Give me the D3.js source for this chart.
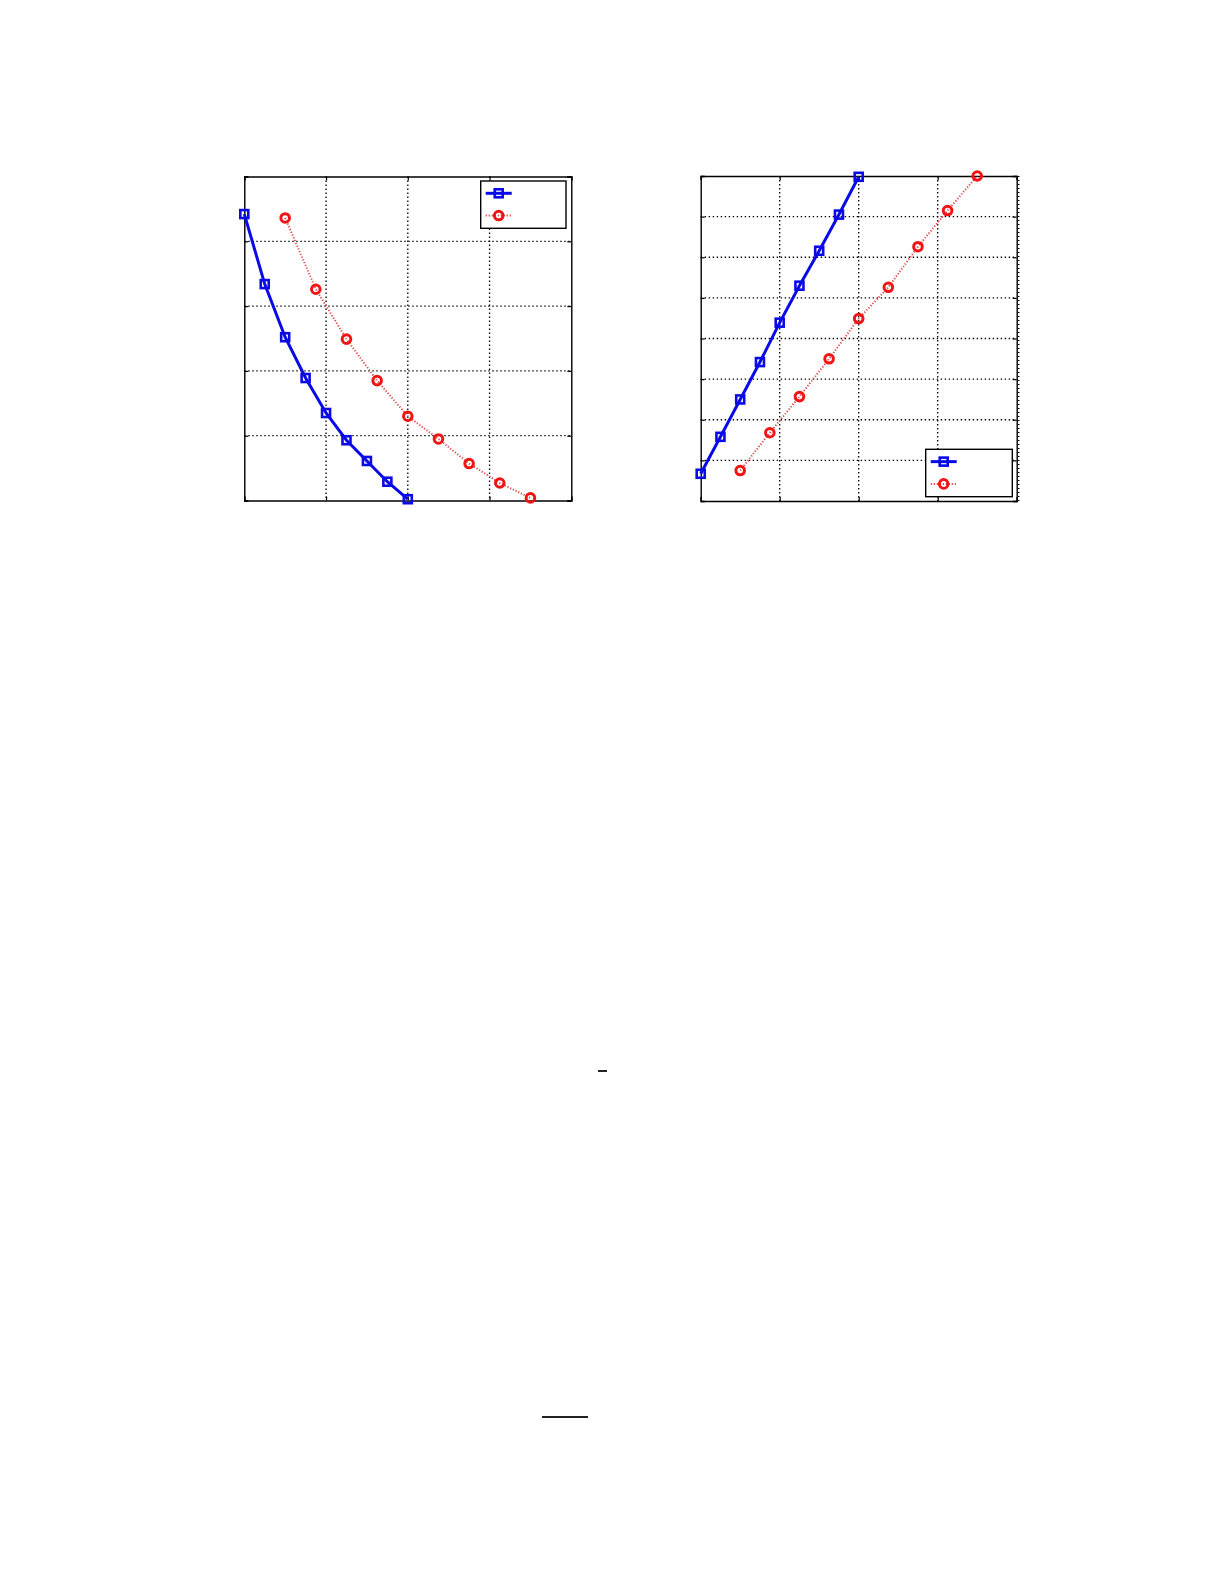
<!DOCTYPE html>
<html>
<head>
<meta charset="utf-8">
<script src="https://cdn.jsdelivr.net/npm/d3@7"></script>
<style>
  body { margin: 0; background: #fff; }
</style>
</head>
<body>
<div class="chart"></div>
<script>
// data (grid units: x 0-16, y 0-50 / 0-80)
var xBlue = [0, 1, 2, 3, 4, 5, 6, 7, 8];
var xRed = [2, 3.5, 5, 6.5, 8, 9.5, 11, 12.5, 14];

var leftBlue = [44.2, 33.4, 25.2, 18.9, 13.5, 9.3, 6.1, 2.9, 0.2];
var leftRed = [43.6, 32.6, 24.9, 18.5, 13.0, 9.5, 5.7, 2.7, 0.4];

var rightBlue = [6.7, 15.8, 25.0, 34.2, 43.9, 53.0, 61.6, 70.5, 79.8];
var rightRed = [7.5, 16.8, 25.7, 35.0, 44.9, 52.6, 62.6, 71.5, 80.0];

var xTicks = [0, 4, 8, 12, 16];
var leftYTicks = [0, 10, 20, 30, 40, 50];
var rightYTicks = [0, 10, 20, 30, 40, 50, 60, 70, 80];

var svgWidth = 1225;
var svgHeight = 1585;

var svg = d3
  .select(".chart")
  .append("svg")
  .attr("width", svgWidth)
  .attr("height", svgHeight);

var blue = "#0a0ae6";
var red = "#f01414";

function drawPanel(box, yMax, yTicks, blueVals, redVals, legendPos) {
  var width = box.right - box.left;
  var height = box.bottom - box.top;

  var g = svg.append("g")
    .attr("transform", `translate(${box.left}, ${box.top})`);

  var xScale = d3.scaleLinear().domain([0, 16]).range([0, width]);
  var yScale = d3.scaleLinear().domain([0, yMax]).range([height, 0]);

  // dotted grid
  g.append("g")
    .selectAll("line")
    .data(xTicks.slice(1, -1))
    .enter()
    .append("line")
    .attr("x1", d => xScale(d))
    .attr("x2", d => xScale(d))
    .attr("y1", 0)
    .attr("y2", height)
    .attr("stroke", "#000")
    .attr("stroke-width", 1.3)
    .attr("stroke-dasharray", "1.4,2.6");

  g.append("g")
    .selectAll("line")
    .data(yTicks.slice(1, -1))
    .enter()
    .append("line")
    .attr("x1", 0)
    .attr("x2", width)
    .attr("y1", d => yScale(d))
    .attr("y2", d => yScale(d))
    .attr("stroke", "#000")
    .attr("stroke-width", 1.3)
    .attr("stroke-dasharray", "1.4,2.6");

  // axes with inward ticks, no labels
  var bottomAxis = d3.axisBottom(xScale).tickValues(xTicks).tickSize(-4).tickFormat("");
  var topAxis = d3.axisTop(xScale).tickValues(xTicks).tickSize(-4).tickFormat("");
  var leftAxis = d3.axisLeft(yScale).tickValues(yTicks).tickSize(-4).tickFormat("");
  var rightAxis = d3.axisRight(yScale).tickValues(yTicks).tickSize(-4).tickFormat("");

  g.append("g").attr("transform", `translate(0, ${height})`).call(bottomAxis);
  g.append("g").call(topAxis);
  g.append("g").call(leftAxis);
  g.append("g").attr("transform", `translate(${width}, 0)`).call(rightAxis);
  g.selectAll(".domain").attr("stroke", "#000").attr("stroke-width", 1.4);
  g.selectAll(".tick line").attr("stroke-width", 1.2);

  var line = d3.line()
    .x(d => xScale(d[0]))
    .y(d => yScale(d[1]));

  var bluePts = xBlue.map((x, i) => [x, blueVals[i]]);
  var redPts = xRed.map((x, i) => [x, redVals[i]]);

  g.append("path")
    .datum(redPts)
    .attr("d", line)
    .attr("fill", "none")
    .attr("stroke", "#e04848")
    .attr("stroke-width", 2)
    .attr("stroke-dasharray", "1.2,1.8");

  g.append("path")
    .datum(bluePts)
    .attr("d", line)
    .attr("fill", "none")
    .attr("stroke", blue)
    .attr("stroke-width", 3);

  g.selectAll(".sq")
    .data(bluePts)
    .enter()
    .append("rect")
    .attr("x", d => xScale(d[0]) - 4)
    .attr("y", d => yScale(d[1]) - 4)
    .attr("width", 8)
    .attr("height", 8)
    .attr("fill", "none")
    .attr("stroke", blue)
    .attr("stroke-width", 2.6);

  g.selectAll(".ci")
    .data(redPts)
    .enter()
    .append("circle")
    .attr("cx", d => xScale(d[0]))
    .attr("cy", d => yScale(d[1]))
    .attr("r", 4.3)
    .attr("fill", "none")
    .attr("stroke", red)
    .attr("stroke-width", 3);

  // legend (entries without text)
  var lg = svg.append("g")
    .attr("transform", `translate(${legendPos.x}, ${legendPos.y})`);

  lg.append("rect")
    .attr("width", legendPos.w)
    .attr("height", legendPos.h)
    .attr("fill", "#fff")
    .attr("stroke", "#000")
    .attr("stroke-width", 1.4);

  var rowY = [legendPos.h * 0.26, legendPos.h * 0.73];

  lg.append("line")
    .attr("x1", 5).attr("x2", 31)
    .attr("y1", rowY[0]).attr("y2", rowY[0])
    .attr("stroke", blue).attr("stroke-width", 3);
  lg.append("rect")
    .attr("x", 18 - 4).attr("y", rowY[0] - 4)
    .attr("width", 8).attr("height", 8)
    .attr("fill", "none").attr("stroke", blue).attr("stroke-width", 2.6);

  lg.append("line")
    .attr("x1", 5).attr("x2", 31)
    .attr("y1", rowY[1]).attr("y2", rowY[1])
    .attr("stroke", "#e04848").attr("stroke-width", 2)
    .attr("stroke-dasharray", "1.2,1.8");
  lg.append("circle")
    .attr("cx", 18).attr("cy", rowY[1]).attr("r", 4.3)
    .attr("fill", "none").attr("stroke", red).attr("stroke-width", 3);
}

drawPanel({left: 244.3, right: 571.3, top: 176.5, bottom: 500.5},
  50, leftYTicks, leftBlue, leftRed,
  {x: 480.7, y: 181, w: 85.3, h: 47.3});

drawPanel({left: 700.7, right: 1016.7, top: 176, bottom: 501},
  80, rightYTicks, rightBlue, rightRed,
  {x: 925.7, y: 449.3, w: 86.6, h: 47.4});

// dense tick strip just outside the right panel edge
svg.append("line")
  .attr("x1", 1018.7).attr("x2", 1018.7)
  .attr("y1", 176).attr("y2", 501)
  .attr("stroke", "#000")
  .attr("stroke-width", 1.5)
  .attr("stroke-dasharray", "1,3");

// stray marks lower on the page
svg.append("line")
  .attr("x1", 598).attr("x2", 607)
  .attr("y1", 1071).attr("y2", 1071)
  .attr("stroke", "#222")
  .attr("stroke-width", 2);

svg.append("line")
  .attr("x1", 542).attr("x2", 588)
  .attr("y1", 1417).attr("y2", 1417)
  .attr("stroke", "#222")
  .attr("stroke-width", 2);
</script>
</body>
</html>
